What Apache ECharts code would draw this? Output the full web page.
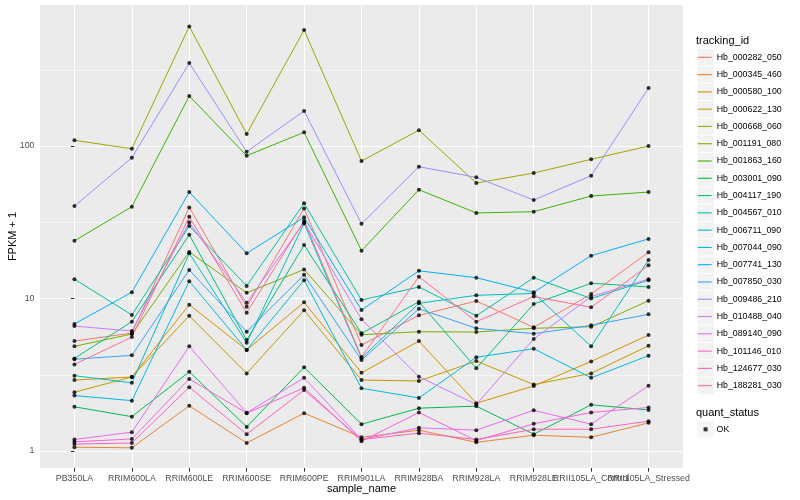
<!DOCTYPE html>
<html><head><meta charset="utf-8">
<script src="https://cdn.jsdelivr.net/npm/echarts@6/dist/echarts.min.js"></script>
<style>html,body{margin:0;padding:0;background:#fff}#chart{width:800px;height:500px}</style>
</head><body><div id="chart"></div>
<script>
// ---- data (FPKM + 1) ----
const categories = ['PB350LA','RRIM600LA','RRIM600LE','RRIM600SE','RRIM600PE','RRIM901LA','RRIM928BA','RRIM928LA','RRIM928LE','RRII105LA_Control','RRII105LA_Stressed'];
const trackingIds = ['Hb_000282_050','Hb_000345_460','Hb_000580_100','Hb_000622_130','Hb_000668_060','Hb_001191_080','Hb_001863_160','Hb_003001_090','Hb_004117_190','Hb_004567_010','Hb_006711_090','Hb_007044_090','Hb_007741_130','Hb_007850_030','Hb_009486_210','Hb_010488_040','Hb_089140_090','Hb_101146_010','Hb_124677_030','Hb_188281_030'];
const Hb_000282_050 = [5.26, 5.94, 39.6, 8.84, 39.0, 4.96, 7.76, 9.63, 6.47, 10.7, 20.1];
const Hb_000345_460 = [1.06, 1.05, 1.98, 1.13, 1.77, 1.23, 1.37, 1.14, 1.27, 1.23, 1.53];
const Hb_000580_100 = [2.92, 3.06, 9.11, 4.60, 9.44, 3.26, 5.26, 2.06, 2.67, 3.87, 5.76];
const Hb_000622_130 = [2.43, 3.06, 7.71, 3.23, 8.37, 2.92, 2.88, 3.89, 2.73, 3.23, 4.90];
const Hb_000668_060 = [109, 96.0, 609, 120, 576, 79.7, 127, 57.2, 66.5, 81.8, 100];
const Hb_001191_080 = [4.86, 5.85, 20.2, 10.9, 15.5, 5.79, 6.06, 6.03, 6.38, 6.53, 9.67];
const Hb_001863_160 = [23.9, 40.0, 213, 86.4, 123, 20.6, 51.7, 36.4, 37.1, 47.0, 49.9];
const Hb_003001_090 = [1.95, 1.68, 3.31, 1.44, 3.54, 1.50, 1.91, 1.97, 1.29, 2.01, 1.86];
const Hb_004117_190 = [4.05, 7.05, 26.2, 5.34, 22.4, 5.91, 9.53, 3.49, 9.20, 12.6, 11.9];
const Hb_004567_010 = [13.4, 7.80, 29.9, 12.1, 42.1, 9.78, 11.9, 7.71, 13.7, 10.0, 13.2];
const Hb_006711_090 = [3.12, 2.80, 19.8, 5.13, 31.1, 4.07, 9.30, 10.5, 10.8, 4.86, 17.9];
const Hb_007044_090 = [2.31, 2.14, 13.0, 4.60, 13.2, 2.58, 2.23, 4.12, 4.69, 3.02, 4.22];
const Hb_007741_130 = [6.81, 11.0, 49.9, 19.8, 34.1, 8.41, 15.2, 13.7, 11.0, 19.1, 24.6];
const Hb_007850_030 = [4.00, 4.24, 15.4, 6.06, 14.3, 3.95, 8.57, 6.38, 5.88, 6.67, 7.88];
const Hb_009486_210 = [40.4, 83.8, 350, 91.8, 170, 30.9, 73.2, 62.3, 44.2, 63.9, 240];
const Hb_010488_040 = [6.60, 6.12, 31.6, 9.39, 31.6, 7.31, 3.07, 2.02, 5.43, 10.3, 13.4];
const Hb_089140_090 = [1.19, 1.33, 4.86, 1.78, 3.02, 1.19, 1.42, 1.37, 1.85, 1.50, 2.68];
const Hb_101146_010 = [1.15, 1.20, 2.97, 1.77, 2.60, 1.16, 1.79, 1.17, 1.51, 1.79, 1.93];
const Hb_124677_030 = [1.11, 1.13, 2.62, 1.29, 2.51, 1.19, 1.31, 1.19, 1.39, 1.39, 1.57];
const Hb_188281_030 = [3.70, 5.59, 34.4, 8.07, 32.4, 4.13, 13.9, 7.05, 10.3, 8.76, 16.5];
const quantStatus = ['OK'];
const yTickValues = [1, 10, 100];
const yMinorBreaks = [3.162, 31.62, 316.2];

// ---- styles ----
const palette = ['#F8766D','#EA8331','#D89000','#C09B00','#A3A500','#7CAE00','#39B600','#00BB4E','#00BF7D','#00C1A3','#00BFC4','#00BAE0','#00B0F6','#35A2FF','#9590FF','#C77CFF','#E76BF3','#FA62DB','#FF62BC','#FF6C91'];
const FONT = '"Liberation Sans", Arial, Helvetica, sans-serif';
const KEY_BG = '#F2F2F2';

const seriesValues = [Hb_000282_050,Hb_000345_460,Hb_000580_100,Hb_000622_130,Hb_000668_060,Hb_001191_080,Hb_001863_160,Hb_003001_090,Hb_004117_190,Hb_004567_010,Hb_006711_090,Hb_007044_090,Hb_007741_130,Hb_007850_030,Hb_009486_210,Hb_010488_040,Hb_089140_090,Hb_101146_010,Hb_124677_030,Hb_188281_030];
const catIdx = categories.map((c, i) => i);
const evenIdx = catIdx.filter(i => i % 2 === 0);
const oddIdx = catIdx.filter(i => i % 2 === 1);

const lineSeries = trackingIds.map((id, k) => ({
  name: id,
  type: 'line',
  symbol: 'none',
  color: palette[k],
  itemStyle: { color: palette[k] },
  lineStyle: { width: 1, color: palette[k] },
  emphasis: { disabled: true },
  xAxisIndex: 0,
  data: seriesValues[k].map((v, i) => [i, v]),
  z: 2
}));
lineSeries[0].markLine = {
  silent: true, z: 1, symbol: ['none', 'none'], animation: false,
  label: { show: false },
  lineStyle: { color: '#ffffff', width: 0.55, type: 'solid' },
  emphasis: { disabled: true },
  data: yMinorBreaks.map(v => ({ yAxis: v }))
};

const pointData = [];
seriesValues.forEach(arr => arr.forEach((v, i) => pointData.push([i, v])));

const xLabelStyle = { formatter: v => categories[Math.round(v)], color: '#4D4D4D', fontSize: 8.8, margin: 6.5, fontFamily: FONT, hideOverlap: false, showMinLabel: true, showMaxLabel: true };
const keyBgText = { fontSize: 8.8, color: 'rgba(0,0,0,0)', fontFamily: FONT, lineHeight: 16.28 };

const option = {
  animation: false,
  textStyle: { fontFamily: FONT },
  title: [
    { text: 'tracking_id', left: 696, top: 34.2, padding: 0, textStyle: { fontSize: 11, fontWeight: 'normal', color: '#000', fontFamily: FONT, lineHeight: 13 } },
    { text: 'quant_status', left: 696, top: 406.2, padding: 0, textStyle: { fontSize: 11, fontWeight: 'normal', color: '#000', fontFamily: FONT, lineHeight: 13 } }
  ],
  legend: [
    { // key background boxes (tracking_id)
      data: trackingIds.map(id => ({ name: id, itemStyle: { color: KEY_BG } })),
      orient: 'vertical', left: 697.5, top: 49.2, padding: 0, z: 3,
      itemGap: 1, itemWidth: 16.28, itemHeight: 16.28, selectedMode: false, icon: 'rect',
      textStyle: keyBgText
    },
    {
      data: trackingIds.map((id, k) => ({ name: id, itemStyle: { color: palette[k] } })),
      orient: 'vertical', left: 697.7, top: 48.7, padding: 0, z: 4,
      itemGap: 0, itemWidth: 14, itemHeight: 17.28, selectedMode: false,
      icon: 'path://M0,0h14v1.1h-14z',
      textStyle: { fontSize: 8.8, color: '#000', fontFamily: FONT, lineHeight: 17.28 }
    },
    { // key background box (quant_status)
      data: quantStatus.map(s => ({ name: s, itemStyle: { color: KEY_BG } })),
      orient: 'vertical', left: 697.5, top: 421.2, padding: 0, z: 3,
      itemWidth: 16.28, itemHeight: 16.28, selectedMode: false, icon: 'rect',
      textStyle: keyBgText
    },
    {
      data: quantStatus, orient: 'vertical', left: 703.6, top: 423.3, padding: 0, z: 4,
      itemWidth: 4, itemHeight: 4, selectedMode: false, icon: 'rect',
      itemStyle: { color: '#000' },
      textStyle: { fontSize: 8.8, color: '#000', fontFamily: FONT, lineHeight: 12, padding: [0, 0, 0, 4] }
    }
  ],
  grid: { left: 40, right: 117, top: 5, bottom: 32, show: true, backgroundColor: '#EBEBEB', borderWidth: 0, containLabel: false, outerBoundsMode: 'none' },
  xAxis: [
    {
      type: 'value', min: -0.6, max: categories.length - 1 + 0.6, position: 'bottom',
      axisLine: { show: false },
      axisTick: { show: true, customValues: catIdx, length: 3.7, lineStyle: { color: '#333333', width: 1 } },
      axisLabel: Object.assign({ customValues: evenIdx }, xLabelStyle),
      splitLine: { show: true, lineStyle: { color: '#ffffff', width: 1 } },
      name: 'sample_name', nameLocation: 'middle', nameGap: 15, nameMoveOverlap: false,
      nameTextStyle: { color: '#000', fontSize: 11, fontFamily: FONT }
    },
    {
      type: 'value', min: -0.6, max: categories.length - 1 + 0.6, position: 'bottom', offset: 0,
      axisLine: { show: false },
      axisTick: { show: false, customValues: oddIdx },
      axisLabel: Object.assign({ customValues: oddIdx }, xLabelStyle),
      splitLine: { show: false }
    }
  ],
  yAxis: {
    type: 'log', logBase: 10, min: 0.774, max: 841,
    axisLine: { show: false },
    axisTick: { show: true, customValues: yTickValues, length: 3.7, lineStyle: { color: '#333333', width: 1 } },
    axisLabel: { customValues: yTickValues, color: '#4D4D4D', fontSize: 8.8, margin: 5.5, fontFamily: FONT, formatter: v => String(v), showMinLabel: true, showMaxLabel: true },
    splitLine: { show: true, lineStyle: { color: '#ffffff', width: 1 } },
    name: 'FPKM + 1', nameLocation: 'middle', nameGap: 21.5, nameRotate: 90, nameMoveOverlap: false,
    nameTextStyle: { color: '#000', fontSize: 11, fontFamily: FONT }
  },
  series: lineSeries.concat([{
    name: 'OK', type: 'scatter', symbol: 'circle', symbolSize: 4, xAxisIndex: 0,
    itemStyle: { color: '#000' }, emphasis: { disabled: true }, z: 3,
    data: pointData
  }])
};
const chart = echarts.init(document.getElementById('chart'), null, { renderer: 'canvas' });
chart.setOption(option);
</script></body></html>
